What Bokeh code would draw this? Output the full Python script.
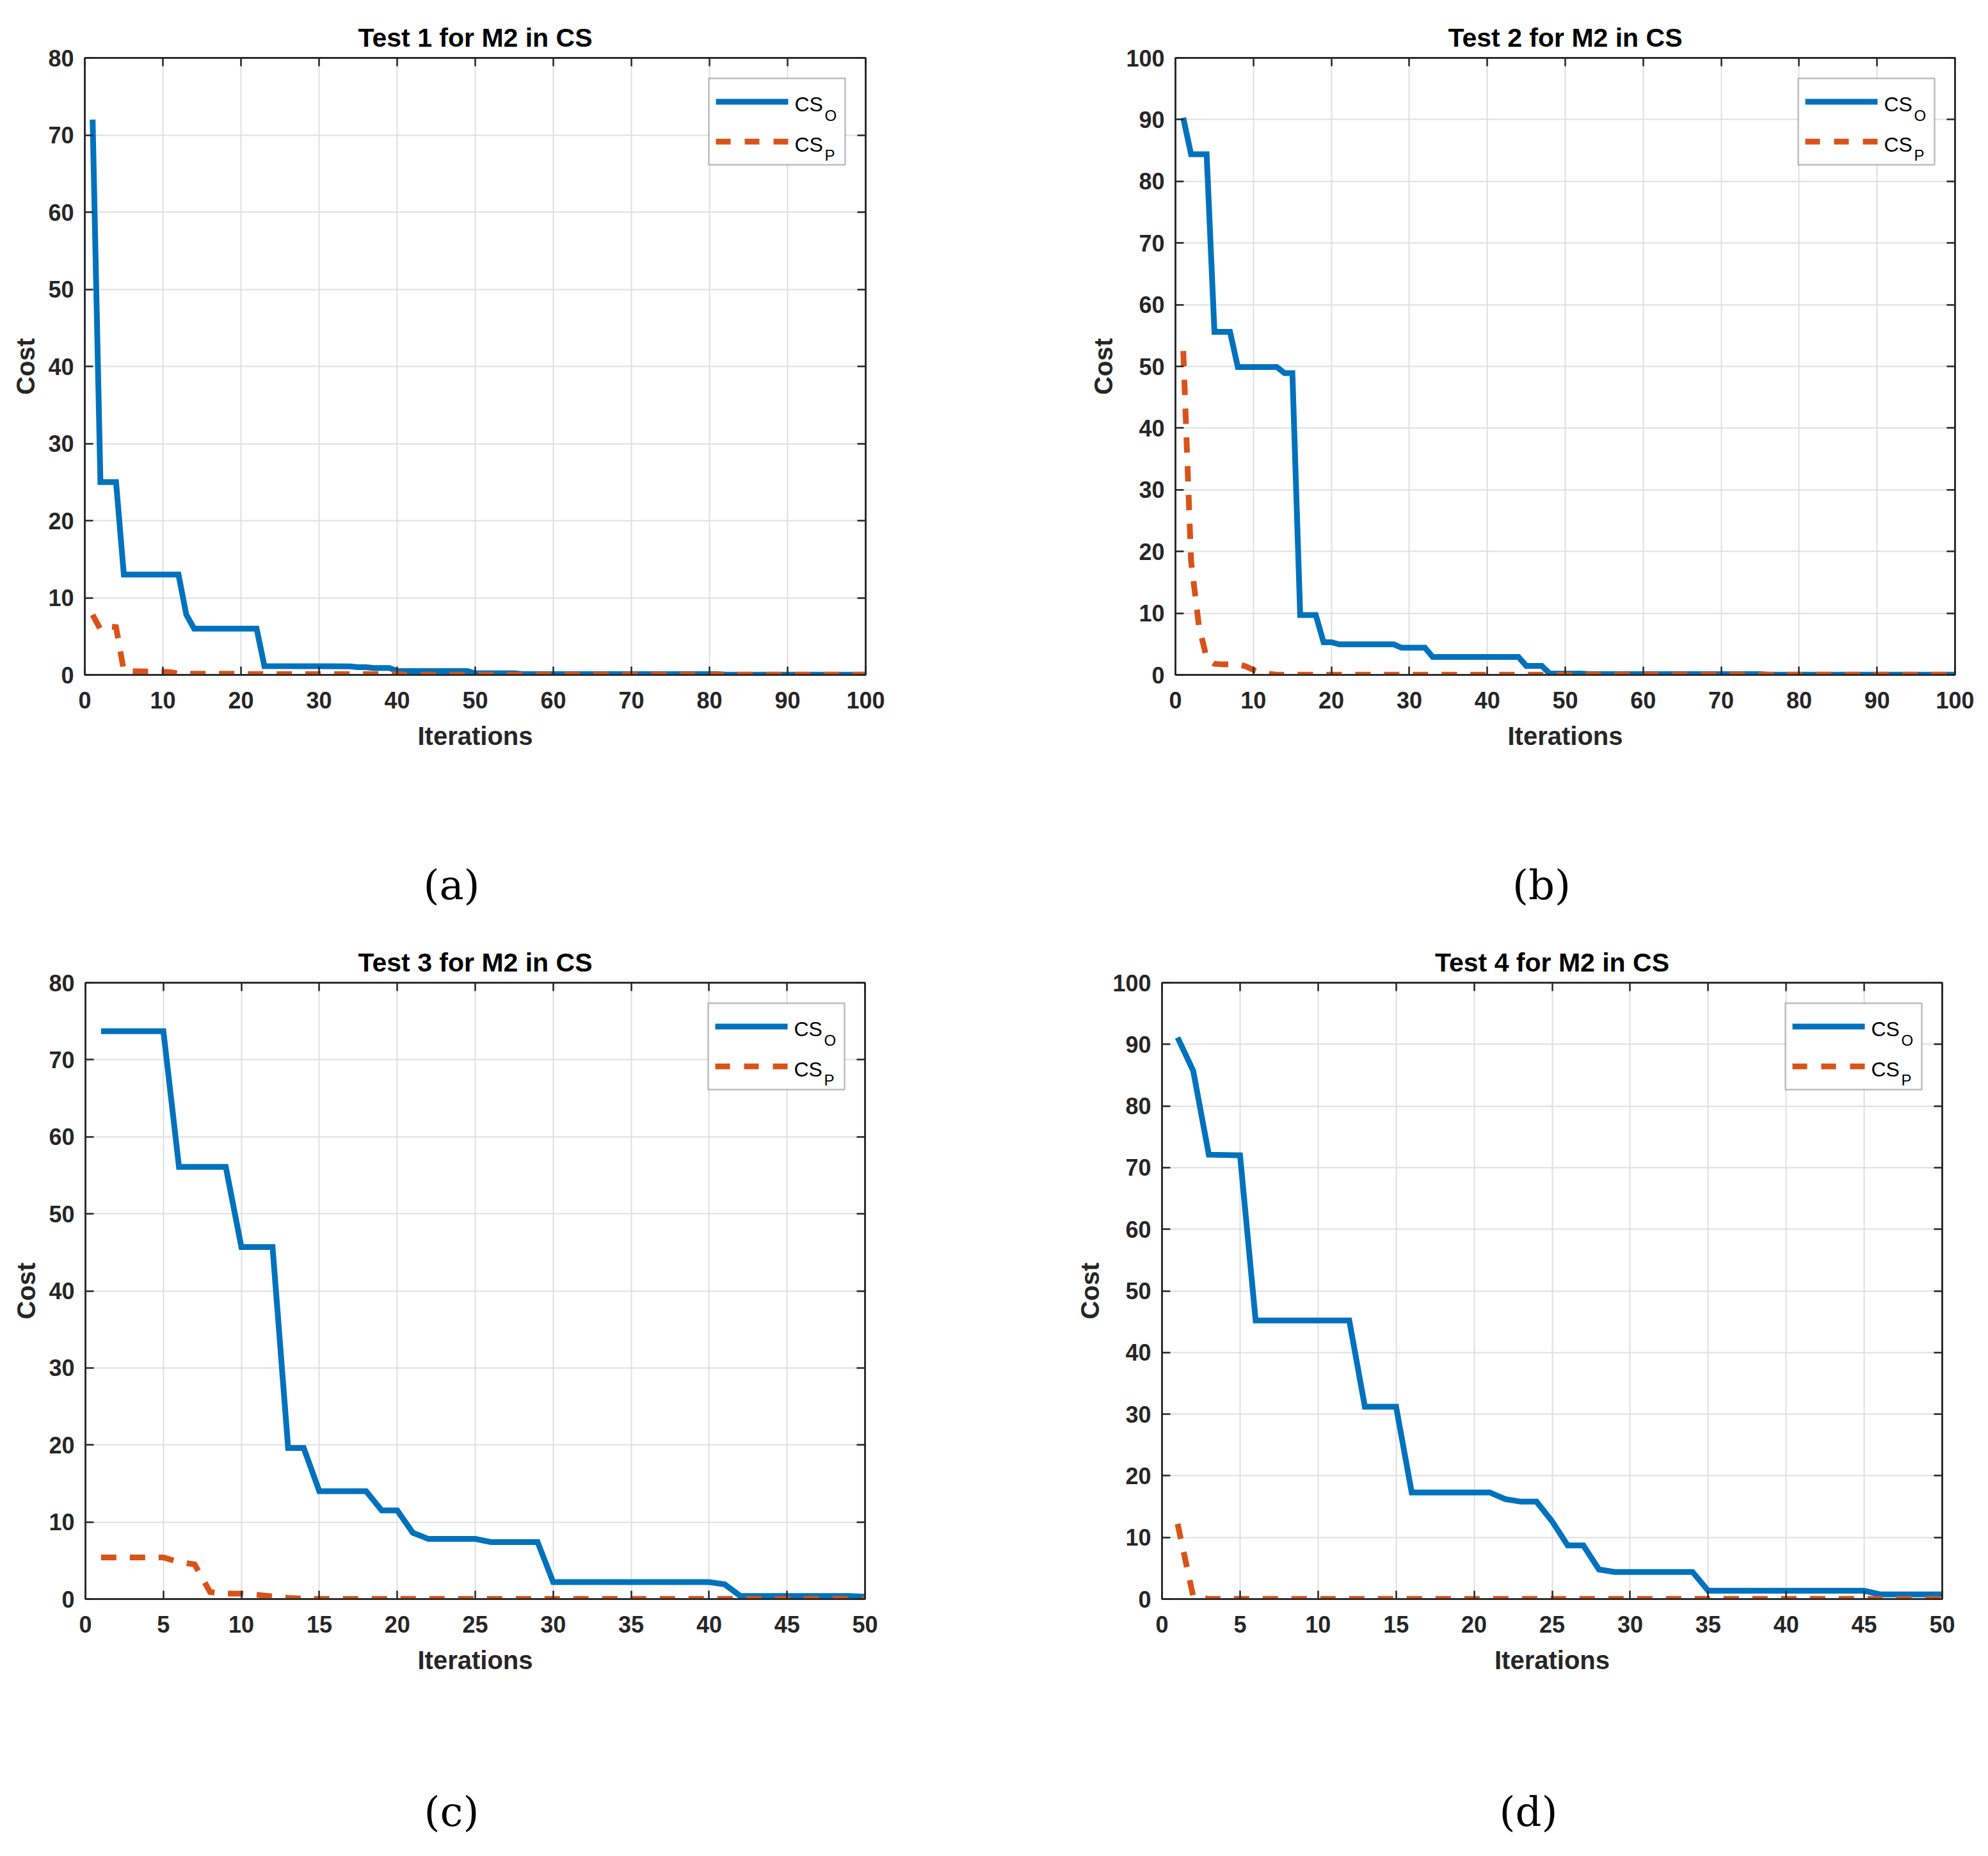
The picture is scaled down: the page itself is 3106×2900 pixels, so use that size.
from bokeh.plotting import figure
from bokeh.models import Range1d, LinearAxis, FixedTicker, Label, BoxAnnotation, Title
from bokeh.layouts import column, row
from bokeh.embed import file_html
from bokeh.resources import INLINE

# ---------------- data (breakpoints of the convergence curves) ----------------
titles = ["Test 1 for M2 in CS", "Test 2 for M2 in CS", "Test 3 for M2 in CS", "Test 4 for M2 in CS"]
captions = ["(a)", "(b)", "(c)", "(d)"]
legend_base = "CS"
legend_subs = ["O", "P"]
x_label = "Iterations"
y_label = "Cost"

x_ticks_100 = [0, 10, 20, 30, 40, 50, 60, 70, 80, 90, 100]
x_ticks_50 = [0, 5, 10, 15, 20, 25, 30, 35, 40, 45, 50]
y_ticks_80 = [0, 10, 20, 30, 40, 50, 60, 70, 80]
y_ticks_100 = [0, 10, 20, 30, 40, 50, 60, 70, 80, 90, 100]

t1_cso_x = [1, 2, 4, 5, 12, 13, 14, 22, 23, 34, 35, 36, 37, 39, 40, 49, 50, 55, 56, 81, 82, 100]
t1_cso_y = [72, 25, 25, 13, 13, 7.8, 6, 6, 1.15, 1.1, 1.0, 1.0, 0.9, 0.9, 0.5, 0.5, 0.2, 0.2, 0.1, 0.1, 0.03, 0.03]
t1_csp_x = [1, 2, 3, 4, 5, 10, 11, 12, 20, 21, 40, 41, 100]
t1_csp_y = [7.8, 5.9, 6.3, 6.2, 0.5, 0.4, 0.35, 0.15, 0.15, 0.1, 0.1, 0.02, 0.02]

t2_cso_x = [1, 2, 4, 5, 7, 8, 13, 14, 15, 16, 18, 19, 20, 21, 28, 29, 32, 33, 44, 45, 47, 48, 52, 53, 75, 76, 100]
t2_cso_y = [90.3, 84.4, 84.4, 55.6, 55.6, 49.9, 49.9, 48.9, 48.9, 9.7, 9.7, 5.3, 5.3, 4.95, 4.95, 4.4, 4.4,
            2.9, 2.9, 1.45, 1.45, 0.2, 0.2, 0.12, 0.12, 0.03, 0.03]
t2_csp_x = [1, 2, 3, 4, 5, 6, 8, 9, 10, 11, 12, 13, 100]
t2_csp_y = [52.5, 18.5, 8.0, 2.7, 1.8, 1.7, 1.7, 1.4, 0.8, 0.35, 0.15, 0.03, 0.03]

t3_cso_x = [1, 5, 6, 9, 10, 12, 13, 14, 15, 18, 19, 20, 21, 22, 25, 26, 29, 30, 40, 41, 42, 49, 50]
t3_cso_y = [73.7, 73.7, 56.1, 56.1, 45.7, 45.7, 19.6, 19.6, 14.0, 14.0, 11.5, 11.5, 8.6, 7.8, 7.8, 7.4, 7.4,
            2.2, 2.2, 1.9, 0.4, 0.4, 0.3]
t3_csp_x = [1, 5, 6, 7, 8, 9, 10, 11, 12, 13, 14, 50]
t3_csp_y = [5.4, 5.4, 4.8, 4.5, 0.9, 0.7, 0.7, 0.55, 0.35, 0.15, 0.03, 0.03]

t4_cso_x = [1, 2, 3, 5, 6, 12, 13, 15, 16, 21, 22, 23, 24, 25, 26, 27, 28, 29, 34, 35, 45, 46, 50]
t4_cso_y = [91.1, 85.7, 72.1, 72.0, 45.2, 45.2, 31.2, 31.2, 17.3, 17.3, 16.2, 15.8, 15.8, 12.6, 8.7, 8.7,
            4.8, 4.4, 4.4, 1.35, 1.35, 0.76, 0.76]
t4_csp_x = [1, 2, 3, 50]
t4_csp_y = [12.2, 0.4, 0.03, 0.03]

# ---------------- styling ----------------
BLUE = "#0072BD"
ORANGE = "#D95319"
AX = "#262626"
GRID = "#dfdfdf"
SANS = "Liberation Sans"
SERIF = "DejaVu Serif"
CAP_SIZE = 64


def style_axis(ax, ticks, show_labels):
    ax.ticker = FixedTicker(ticks=ticks)
    ax.major_tick_in = 13
    ax.major_tick_out = 0
    ax.minor_tick_line_color = None
    ax.axis_line_color = AX
    ax.axis_line_width = 2.5
    ax.major_tick_line_color = AX
    ax.major_tick_line_width = 2.5
    ax.major_label_text_font = SANS
    ax.major_label_text_font_style = "bold"
    ax.major_label_text_font_size = "36px"
    ax.major_label_text_color = AX
    ax.axis_label_text_font = SANS
    ax.axis_label_text_font_style = "bold"
    ax.axis_label_text_font_size = "40px"
    ax.axis_label_text_color = AX
    if not show_labels:
        ax.major_label_overrides = {t: "" for t in ticks}
        ax.major_label_standoff = 0


def add_legend(p, fw, fh):
    bl = fw - 32 - 213
    br = fw - 32
    bt = fh - 32
    bb = bt - 135
    su = dict(left_units="screen", right_units="screen", top_units="screen", bottom_units="screen")
    p.add_layout(BoxAnnotation(left=bl, right=br, top=bt, bottom=bb, fill_color="white", fill_alpha=1.0,
                               line_color=AX, line_width=2.5, **su))
    cy1 = bt - 36.5
    p.add_layout(BoxAnnotation(left=bl + 11, right=bl + 124, top=cy1 + 4.5, bottom=cy1 - 4.5,
                               fill_color=BLUE, fill_alpha=1.0, line_color=None, **su))
    cy2 = bt - 98.7
    for a, b in [(11, 34), (56, 79), (101, 124)]:
        p.add_layout(BoxAnnotation(left=bl + a, right=bl + b, top=cy2 + 4.5, bottom=cy2 - 4.5,
                                   fill_color=ORANGE, fill_alpha=1.0, line_color=None, **su))
    rows = [(40.7, 58.0, legend_subs[0]), (103.0, 119.7, legend_subs[1])]
    for base_dy, sub_dy, sub in rows:
        p.add_layout(Label(x=bl + 134, y=bt - base_dy, x_units="screen", y_units="screen", text=legend_base,
                           text_font=SANS, text_font_size="32px", text_color="black",
                           text_align="left", text_baseline="alphabetic"))
        p.add_layout(Label(x=bl + 181, y=bt - sub_dy, x_units="screen", y_units="screen", text=sub,
                           text_font=SANS, text_font_size="24px", text_color="black",
                           text_align="left", text_baseline="alphabetic"))


def make_panel(idx, xo, yo, xp, yp, xticks, yticks, W, H, left, right, top, bottom):
    xmax = xticks[-1]
    ymax = yticks[-1]
    fw = W - left - right
    fh = H - top - bottom
    p = figure(width=W, height=H, x_range=Range1d(0, xmax), y_range=Range1d(0, ymax),
               output_backend="svg", toolbar_location=None, title=None,
               min_border_left=left, min_border_right=right,
               min_border_top=top, min_border_bottom=bottom)
    p.background_fill_color = "white"
    p.border_fill_color = "white"
    p.outline_line_color = AX
    p.outline_line_width = 2.5

    style_axis(p.xaxis[0], xticks, True)
    style_axis(p.yaxis[0], yticks, True)
    p.xaxis[0].axis_label = x_label
    p.yaxis[0].axis_label = y_label
    p.xaxis[0].major_label_standoff = 26
    p.xaxis[0].axis_label_standoff = 18
    p.yaxis[0].major_label_standoff = 17
    p.yaxis[0].axis_label_standoff = 10

    top_ax = LinearAxis()
    style_axis(top_ax, xticks, False)
    p.add_layout(top_ax, "above")
    right_ax = LinearAxis()
    style_axis(right_ax, yticks, False)
    p.add_layout(right_ax, "right")

    p.xgrid.ticker = FixedTicker(ticks=xticks)
    p.ygrid.ticker = FixedTicker(ticks=yticks)
    p.xgrid.grid_line_color = GRID
    p.ygrid.grid_line_color = GRID
    p.xgrid.grid_line_width = 2
    p.ygrid.grid_line_width = 2

    p.line(xo, yo, line_color=BLUE, line_width=9, line_join="miter")
    p.line(xp, yp, line_color=ORANGE, line_width=9, line_dash="24 21", line_join="miter")

    add_legend(p, fw, fh)

    p.add_layout(Title(text=titles[idx], align="center", text_font=SANS, text_font_style="bold",
                       text_font_size="41px", text_color="black", standoff=17), "above")
    return p


def make_caption(idx, W, H, cx, cy):
    c = figure(width=W, height=H, x_range=Range1d(0, 1), y_range=Range1d(0, 1),
               output_backend="svg", toolbar_location=None, title=None,
               x_axis_type=None, y_axis_type=None, min_border=0)
    c.outline_line_color = None
    c.background_fill_color = "white"
    c.border_fill_color = "white"
    c.add_layout(Label(x=cx, y=H - cy, x_units="screen", y_units="screen", text=captions[idx],
                       text_font=SERIF, text_font_size=f"{CAP_SIZE}px", text_color="black",
                       text_align="center", text_baseline="middle"))
    return c


W = 1553
pa = make_panel(0, t1_cso_x, t1_cso_y, t1_csp_x, t1_csp_y, x_ticks_100, y_ticks_80,
                W, 1214, 132, 201, 90, 160)
pb = make_panel(1, t2_cso_x, t2_cso_y, t2_csp_x, t2_csp_y, x_ticks_100, y_ticks_100,
                W, 1214, 283, 52, 90, 160)
ca = make_caption(0, W, 236, 132 + 1220 / 2 - 37, 168)
cb = make_caption(1, W, 236, 283 + 1218 / 2 - 37, 168)
pc = make_panel(2, t3_cso_x, t3_cso_y, t3_csp_x, t3_csp_y, x_ticks_50, y_ticks_80,
                W, 1208, 133, 202, 85, 160)
pd = make_panel(3, t4_cso_x, t4_cso_y, t4_csp_x, t4_csp_y, x_ticks_50, y_ticks_100,
                W, 1208, 262, 72, 85, 160)
cc = make_caption(2, W, 242, 133 + 1218 / 2 - 37, 172)
cd = make_caption(3, W, 242, 262 + 1219 / 2 - 37, 172)

layout = column(row(pa, pb), row(ca, cb), row(pc, pd), row(cc, cd))
open("out.html", "w").write(file_html(layout, INLINE))
